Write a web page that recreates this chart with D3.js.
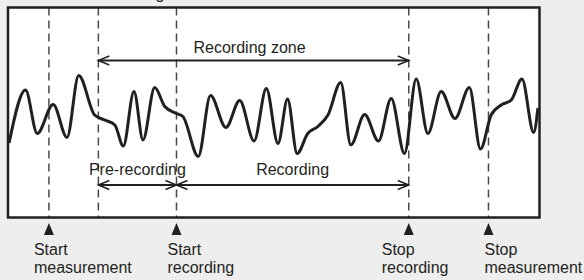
<!DOCTYPE html>
<html>
<head>
<meta charset="utf-8">
<script src="https://cdn.jsdelivr.net/npm/d3@7"></script>
<style>
  html, body { margin: 0; padding: 0; background: #eeeeee; }
  svg { display: block; }
  text { font-family: "Liberation Sans", Arial, Helvetica, sans-serif; fill: #231f20; }
</style>
</head>
<body>
<svg id="chart" width="584" height="280"></svg>
<script>
// signal trace: time (ms) and amplitude
const waveTime = [2, 33, 55, 85, 111, 133, 163, 182, 201, 217, 237, 254, 276, 295, 317, 329,
  358, 381, 410, 436, 463, 486, 508, 526, 544, 564, 583, 602, 626, 645, 671, 697, 721, 746,
  768, 790, 815, 841, 868, 889, 909, 928, 947, 967, 989, 997];
const waveValue = [-0.54, 0.52, -0.35, 0.23, -0.43, 0.81, 0.02, -0.08, -0.18, -0.6, 0.49, -0.48,
  0.57, 0.19, 0.05, -0.01, -0.81, 0.41, -0.23, 0.31, -0.5, 0.55, -0.55, 0.34, -0.75, -0.35,
  -0.21, 0.02, 0.67, -0.58, 0.03, -0.5, 0.35, -0.75, 0.74, -0.35, 0.49, -0.05, 0.57, -0.66,
  0.02, 0.22, 0.32, 0.74, -0.33, 0.16];

// events on the time axis
const eventTime = [77, 170, 317, 754, 904];
const eventMarked = [true, false, true, true, true];
const markerLabels = [["Start", "measurement"], ["Start", "recording"], ["Stop", "recording"], ["Stop", "measurement"]];
const labelShift = [-15, -9, -27, -4];

// spans drawn as double arrows
const spanLabels = ["Recording zone", "Pre-recording", "Recording"];
const spanFrom = [170, 170, 317];
const spanTo = [754, 317, 754];

const svg = d3.select("#chart");
const box = { left: 8, right: 539.5, top: 7.5, bottom: 217.5 };

const x = d3.scaleLinear().domain([0, 1000]).range([box.left, box.right]);
const y = d3.scaleLinear().domain([-1, 1]).range([166, 66]);

const ink = "#231f20";

// clipped text above the frame
svg.append("text")
  .attr("x", 164.5).attr("y", -1.5)
  .attr("text-anchor", "end")
  .style("font-size", "16px")
  .text("Measuring");

svg.append("rect")
  .attr("x", box.left).attr("y", box.top)
  .attr("width", box.right - box.left).attr("height", box.bottom - box.top)
  .attr("fill", "#ffffff");

svg.append("defs").append("clipPath").attr("id", "inside")
  .append("rect")
  .attr("x", box.left).attr("y", box.top)
  .attr("width", box.right - box.left).attr("height", box.bottom - box.top);

// dashed event lines
svg.selectAll(".event")
  .data(eventTime)
  .join("line")
  .attr("class", "event")
  .attr("x1", d => x(d)).attr("x2", d => x(d))
  .attr("y1", box.top).attr("y2", box.bottom)
  .attr("stroke", "#4a4a4a")
  .attr("stroke-width", 1.5)
  .attr("stroke-dasharray", "8,5");

// trace
const wave = waveTime.map((t, i) => ({ t, v: waveValue[i] }));
const line = d3.line()
  .x(d => x(d.t))
  .y(d => y(d.v))
  .curve(d3.curveMonotoneX);

svg.append("path")
  .datum(wave)
  .attr("clip-path", "url(#inside)")
  .attr("d", line)
  .attr("fill", "none")
  .attr("stroke", ink)
  .attr("stroke-width", 3)
  .attr("stroke-linejoin", "round");

// frame
svg.append("rect")
  .attr("x", box.left).attr("y", box.top)
  .attr("width", box.right - box.left).attr("height", box.bottom - box.top)
  .attr("fill", "none")
  .attr("stroke", ink)
  .attr("stroke-width", 2.5);

// span arrows
const spanY = [60.5, 185, 185];
const labelY = [53, 175, 175];
const headLen = 11, headHalf = 4.5;

spanLabels.forEach((label, i) => {
  const x0 = x(spanFrom[i]), x1 = x(spanTo[i]), yy = spanY[i];
  const g = svg.append("g");
  g.append("line")
    .attr("x1", x0).attr("x2", x1).attr("y1", yy).attr("y2", yy)
    .attr("stroke", ink).attr("stroke-width", 2);
  const p = d3.path();
  p.moveTo(x0 + headLen, yy - headHalf); p.lineTo(x0, yy); p.lineTo(x0 + headLen, yy + headHalf);
  p.moveTo(x1 - headLen, yy - headHalf); p.lineTo(x1, yy); p.lineTo(x1 - headLen, yy + headHalf);
  g.append("path")
    .attr("d", p.toString())
    .attr("fill", "none").attr("stroke", ink).attr("stroke-width", 1.5);
  g.append("text")
    .attr("x", (x0 + x1) / 2 - (i === 0 ? 4 : 0))
    .attr("y", labelY[i])
    .attr("text-anchor", "middle")
    .style("font-size", "16px")
    .text(label);
});

// triangle markers and labels under the frame
const marked = eventTime.filter((d, i) => eventMarked[i]);
svg.selectAll(".marker")
  .data(marked)
  .join("path")
  .attr("class", "marker")
  .attr("d", d => {
    const p = d3.path();
    p.moveTo(x(d), 223); p.lineTo(x(d) + 5, 235); p.lineTo(x(d) - 5, 235); p.closePath();
    return p.toString();
  })
  .attr("fill", ink);

marked.forEach((d, i) => {
  const t = svg.append("text")
    .attr("x", x(d) + labelShift[i])
    .attr("y", 254.5)
    .style("font-size", "16px");
  markerLabels[i].forEach((s, j) => {
    t.append("tspan")
      .attr("x", x(d) + labelShift[i])
      .attr("dy", j === 0 ? 0 : 18.5)
      .text(s);
  });
});
</script>
</body>
</html>
